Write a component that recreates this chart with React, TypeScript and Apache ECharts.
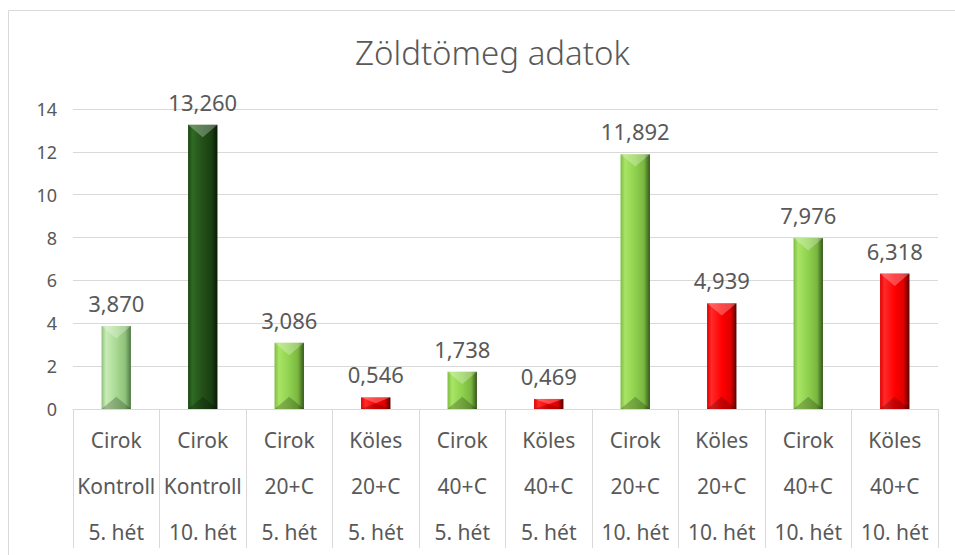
import React, { useEffect, useRef } from "react";
import * as echarts from "echarts";

const row1 = ["Cirok", "Cirok", "Cirok", "Köles", "Cirok", "Köles", "Cirok", "Köles", "Cirok", "Köles"];
const row2 = ["Kontroll", "Kontroll", "20+C", "20+C", "40+C", "40+C", "20+C", "20+C", "40+C", "40+C"];
const row3 = ["5. hét", "10. hét", "5. hét", "5. hét", "5. hét", "5. hét", "10. hét", "10. hét", "10. hét", "10. hét"];
const values = [3.87, 13.26, 3.086, 0.546, 1.738, 0.469, 11.892, 4.939, 7.976, 6.318];
const yTicks = { min: 0, max: 14, interval: 2 };

const palettes: Record<string, string[]> = {
  light: ["#8fbd7c", "#c8ecb6", "#a9d993", "#8fc27a", "#4f7a44"],
  dark: ["#1c4613", "#2f6a24", "#234f18", "#1a3f12", "#071804"],
  lime: ["#7cbc41", "#a9e465", "#8fd14f", "#79b63f", "#33561a"],
  red: ["#e00000", "#ff2a2a", "#ff0000", "#e00000", "#5a0000"],
};

function kindOf(i: number): string {
  if (i === 0) return "light";
  if (i === 1) return "dark";
  return row1[i] === "Köles" ? "red" : "lime";
}

function grad(c: string[]) {
  return new echarts.graphic.LinearGradient(0, 0, 1, 0, [
    { offset: 0, color: c[0] },
    { offset: 0.15, color: c[1] },
    { offset: 0.5, color: c[2] },
    { offset: 0.8, color: c[3] },
    { offset: 1, color: c[4] },
  ]);
}

const FONT = "Noto Sans";
const TXT = "#595959";

export default function App() {
  const ref = useRef<HTMLDivElement>(null);
  useEffect(() => {
    document.body.style.margin = "0";
    const chart = echarts.init(ref.current!, undefined, { renderer: "svg" });
    const cats = row1.map((_, i) => i);
    chart.setOption({
      animation: false,
      backgroundColor: "#ffffff",
      title: {
        text: "Zöldtömeg adatok",
        left: 350,
        top: 31,
        textStyle: { fontFamily: FONT, fontSize: 33, fontWeight: 300, color: TXT },
      },
      graphic: [
        {
          type: "rect",
          shape: { x: 8.5, y: 10.5, width: 970, height: 570 },
          style: { fill: "none", stroke: "#d9d9d9", lineWidth: 1 },
          silent: true,
          z: -1,
        },
      ],
      grid: { left: 73, right: 17, top: 109, bottom: 146 },
      xAxis: {
        type: "category",
        data: cats,
        axisLine: { show: true, lineStyle: { color: "#d9d9d9", width: 1 } },
        axisTick: { show: true, length: 139, interval: 0, lineStyle: { color: "#d9d9d9", width: 1 } },
        axisLabel: {
          interval: 0,
          margin: 8,
          fontFamily: FONT,
          fontSize: 21,
          lineHeight: 46,
          color: TXT,
          formatter: (v: string) => {
            const i = Number(v);
            return row1[i] + "\n" + row2[i] + "\n" + row3[i];
          },
        },
      },
      yAxis: {
        type: "value",
        min: yTicks.min,
        max: yTicks.max,
        interval: yTicks.interval,
        axisLine: { show: false },
        axisTick: { show: false },
        splitLine: { lineStyle: { color: "#d9d9d9", width: 1 } },
        axisLabel: { fontFamily: FONT, fontSize: 18, color: TXT, margin: 16 },
      },
      series: [
        {
          type: "bar",
          barWidth: "34%",
          data: values.map((v, i) => ({
            value: v,
            itemStyle: { color: grad(palettes[kindOf(i)]) },
          })),
          label: {
            show: true,
            position: "top",
            distance: 12,
            fontFamily: FONT,
            fontSize: 22,
            color: TXT,
            formatter: (p: any) => p.value.toFixed(3).replace(".", ","),
          },
        },
        {
          type: "custom",
          silent: true,
          z: 3,
          data: values.map((v, i) => [i, v]),
          renderItem: (params: any, api: any) => {
            const idx = api.value(0);
            const v = api.value(1);
            const top = api.coord([idx, v]);
            const bot = api.coord([idx, 0]);
            const w = api.size([1, 0])[0] * 0.34;
            const x0 = top[0] - w / 2;
            const x1 = top[0] + w / 2;
            const y0 = top[1];
            const y1 = bot[1];
            const h = Math.min(w * 0.42, (y1 - y0) / 2);
            return {
              type: "group",
              children: [
                {
                  type: "polygon",
                  shape: { points: [[x0, y0], [x1, y0], [top[0], y0 + h]] },
                  style: { fill: "rgba(255,255,255,0.28)" },
                },
                {
                  type: "polygon",
                  shape: { points: [[x0, y1], [x1, y1], [top[0], y1 - h]] },
                  style: { fill: "rgba(0,0,0,0.22)" },
                },
              ],
            };
          },
        },
      ],
    });
    return () => chart.dispose();
  }, []);
  return <div ref={ref} style={{ width: 955, height: 555 }} />;
}
